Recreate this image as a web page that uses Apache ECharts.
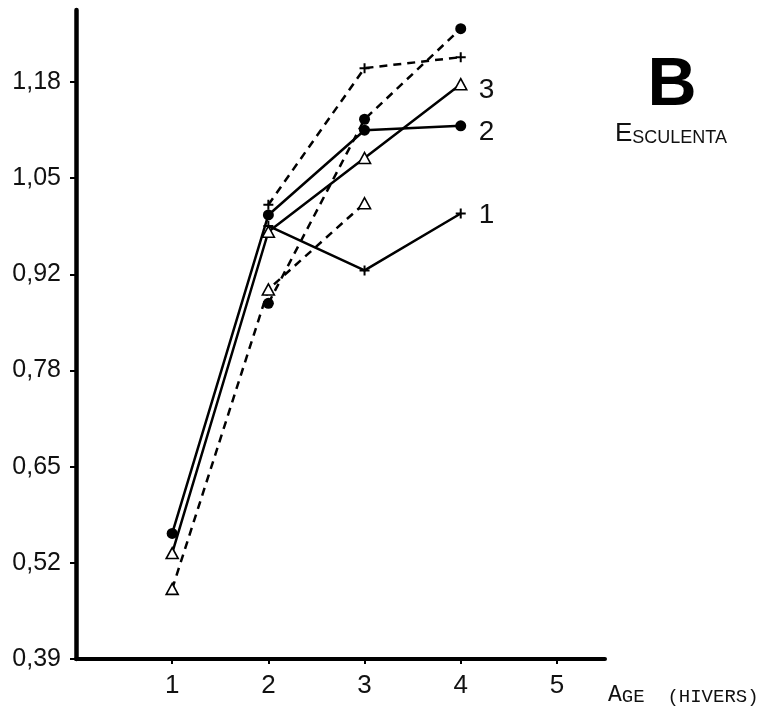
<!DOCTYPE html>
<html>
<head>
<meta charset="utf-8">
<script src="https://cdn.jsdelivr.net/npm/echarts@6/dist/echarts.min.js"></script>
<style>html,body{margin:0;padding:0;background:#fff}#c{width:768px;height:710px}</style>
</head>
<body>
<div id="c"></div>
<script>
// Ages (winters)
const ages = [1, 2, 3, 4];
// Solid series (labelled 1, 2, 3)
const solidPlus = [null, 0.983, 0.922, 1.000];      // "1"
const solidCircle = [0.562, 0.998, 1.114, 1.120];   // "2"
const solidTriangle = [0.535, 0.975, 1.076, 1.177]; // "3"
// Dashed series
const dashedPlus = [null, 1.012, 1.199, 1.214];
const dashedCircle = [null, 0.877, 1.129, 1.253];
const dashedTriangle = [0.486, 0.896, 1.014, null];
// Axis ticks
const yTickLabels = ['0,39', '0,52', '0,65', '0,78', '0,92', '1,05', '1,18'];
const yTickValues = [0.39, 0.5217, 0.6533, 0.785, 0.9167, 1.0483, 1.18];
const xTickValues = [1, 2, 3, 4, 5];
const endLabels = { solidPlus: '1', solidCircle: '2', solidTriangle: '3' };

const FONT = '"Liberation Sans", sans-serif';
const MONO = '"Liberation Mono", monospace';
const PLUS = 'path://M-1,-5 H1 V-1 H5 V1 H1 V5 H-1 V1 H-5 V-1 H-1 Z';

function pts(vals) {
  const out = [];
  ages.forEach((a, i) => { if (vals[i] !== null) out.push([a, vals[i]]); });
  return out;
}
function mk(name, vals, marker, dashed, label, lblOffset) {
  let sym, size, item;
  if (marker === 'circle') { sym = 'circle'; size = 11; item = { color: '#000' }; }
  else if (marker === 'triangle') { sym = 'triangle'; size = [12, 11]; item = { color: '#fff', borderColor: '#000', borderWidth: 1.6 }; }
  else { sym = PLUS; size = 10; item = { color: '#000' }; }
  const s = {
    name: name, type: 'line', data: pts(vals), symbol: sym, symbolSize: size,
    showAllSymbol: true, itemStyle: item, animation: false,
    lineStyle: { color: '#000', width: 2.5, type: dashed ? [8, 6] : 'solid' },
    emphasis: { disabled: true }, z: dashed ? 2 : 3
  };
  if (label) {
    s.endLabel = { show: true, formatter: label, distance: 18, offset: lblOffset || [0, 0],
      fontSize: 28, fontFamily: FONT, color: '#111' };
  }
  return s;
}

const chart = echarts.init(document.getElementById('c'), null, { renderer: 'canvas' });
chart.setOption({
  backgroundColor: '#fff',
  animation: false,
  grid: { left: 76, right: 163, top: 10, bottom: 51 },
  xAxis: {
    type: 'value', min: 0, max: 5.5,
    axisLine: { show: true, onZero: false, lineStyle: { color: '#000', width: 4, cap: 'round' } },
    axisTick: { show: true, customValues: xTickValues, length: 5, lineStyle: { color: '#000', width: 2 } },
    axisLabel: { customValues: xTickValues, fontSize: 26, fontFamily: FONT, color: '#111', margin: 14 },
    splitLine: { show: false }
  },
  yAxis: {
    type: 'value', min: 0.39, max: 1.2786,
    axisLine: { show: true, lineStyle: { color: '#000', width: 4.5, cap: 'round' } },
    axisTick: { show: true, customValues: yTickValues, length: 6, lineStyle: { color: '#000', width: 2 } },
    axisLabel: {
      customValues: yTickValues, fontSize: 25, fontFamily: FONT, color: '#111', margin: 15,
      formatter: function (v) {
        let best = 0;
        yTickValues.forEach((t, i) => { if (Math.abs(t - v) < Math.abs(yTickValues[best] - v)) best = i; });
        return yTickLabels[best];
      }
    },
    splitLine: { show: false }
  },
  graphic: [
    { type: 'text', x: 672, y: 86, style: { text: 'B', fontSize: 68, fontWeight: 'bold', fontFamily: '"Liberation Sans", Arial, sans-serif', fill: '#000', textAlign: 'center', textVerticalAlign: 'middle' } },
    { type: 'text', x: 615, y: 134, style: { text: '{a|E}{b|SCULENTA}', textVerticalAlign: 'middle', rich: {
        a: { fontSize: 26, fontFamily: FONT, fill: '#111', color: '#111', verticalAlign: 'bottom' },
        b: { fontSize: 18, fontFamily: FONT, fill: '#111', color: '#111', verticalAlign: 'bottom' } } } },
    { type: 'text', x: 608, y: 695, style: { text: '{a|A}{b|GE  (HIVERS)}', textVerticalAlign: 'middle', rich: {
        a: { fontSize: 23, fontFamily: MONO, fill: '#111', color: '#111', verticalAlign: 'bottom' },
        b: { fontSize: 19, fontFamily: MONO, fill: '#111', color: '#111', verticalAlign: 'bottom' } } } }
  ],
  series: [
    mk('dashedTriangle', dashedTriangle, 'triangle', true),
    mk('dashedCircle', dashedCircle, 'circle', true),
    mk('dashedPlus', dashedPlus, 'plus', true),
    mk('solidPlus', solidPlus, 'plus', false, endLabels.solidPlus, [0, 2]),
    mk('solidCircle', solidCircle, 'circle', false, endLabels.solidCircle, [0, 6]),
    mk('solidTriangle', solidTriangle, 'triangle', false, endLabels.solidTriangle, [0, 6])
  ]
});
</script>
</body>
</html>
